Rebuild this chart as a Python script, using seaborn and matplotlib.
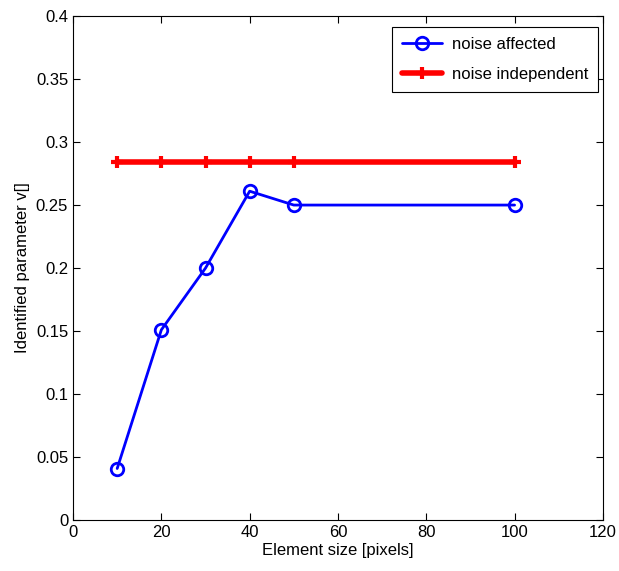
import matplotlib
matplotlib.use("Agg")
import matplotlib.pyplot as plt
import seaborn as sns
import pandas as pd

element_size = [10, 20, 30, 40, 50, 100]
noise_affected = [0.041, 0.151, 0.200, 0.261, 0.250, 0.250]
noise_independent = [0.284, 0.284, 0.284, 0.284, 0.284, 0.284]
xticks = [0, 20, 40, 60, 80, 100, 120]
yticks = [0, 0.05, 0.1, 0.15, 0.2, 0.25, 0.3, 0.35, 0.4]
ytick_labels = ["0", "0.05", "0.1", "0.15", "0.2", "0.25", "0.3", "0.35", "0.4"]

sns.set_style("ticks")
plt.rcParams['font.family'] = ['Liberation Sans', 'DejaVu Sans']
plt.rcParams['text.color'] = 'black'
plt.rcParams['axes.labelcolor'] = 'black'
plt.rcParams['xtick.color'] = 'black'
plt.rcParams['ytick.color'] = 'black'
plt.rcParams['axes.edgecolor'] = 'black'

fig = plt.figure(figsize=(6.19, 5.71), dpi=100)
ax = fig.add_axes([0.118, 0.089, 0.856, 0.883])

df = pd.DataFrame({"x": element_size, "a": noise_affected, "b": noise_independent})
sns.lineplot(data=df, x="x", y="a", ax=ax, color="#0000ff", linewidth=2,
             marker="o", markersize=9, markerfacecolor="none",
             markeredgecolor="#0000ff", markeredgewidth=2, label="noise affected")
sns.lineplot(data=df, x="x", y="b", ax=ax, color="#ff0000", linewidth=4,
             marker="+", markersize=8, markeredgewidth=3,
             markeredgecolor="#ff0000", label="noise independent")

ax.set_xlim(0, 120)
ax.set_ylim(0, 0.4)
ax.set_xticks(xticks)
ax.set_xticklabels([str(t) for t in xticks])
ax.set_yticks(yticks)
ax.set_yticklabels(ytick_labels)
ax.tick_params(direction="in", length=5, labelsize=12, top=True, right=True, width=0.8)
for s in ax.spines.values():
    s.set_linewidth(0.8)
    s.set_visible(True)
ax.set_xlabel("Element size [pixels]", fontsize=12, labelpad=2)
ax.set_ylabel("Identified parameter v[]", fontsize=12, labelpad=4)

leg = ax.legend(loc="upper right", bbox_to_anchor=(0.991, 0.978), borderaxespad=0,
                fontsize=12, frameon=True, fancybox=False,
                edgecolor="black", framealpha=1, labelspacing=0.9,
                handlelength=2.4, handletextpad=0.6, borderpad=0.6)
leg.get_frame().set_linewidth(0.8)

fig.savefig("out.png", dpi=100)
